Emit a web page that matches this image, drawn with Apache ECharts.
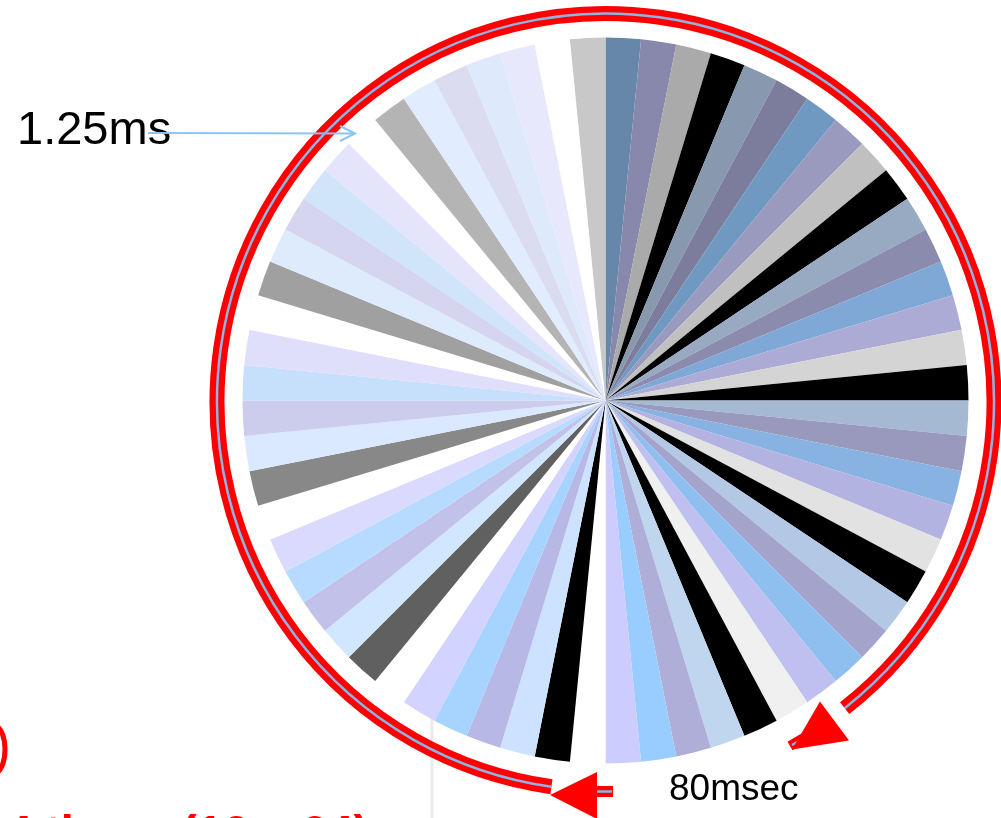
<!DOCTYPE html>
<html>
<head>
<meta charset="utf-8">
<script src="https://cdn.jsdelivr.net/npm/echarts@6/dist/echarts.min.js"></script>
<style>
  html, body { margin: 0; padding: 0; background: #ffffff; }
  #chart { width: 1001px; height: 818px; }
</style>
</head>
<body>
<div id="chart"></div>
<script>
// 64 time slots of 1.25 ms each (80 msec per revolution)
const sliceNames = [
  '1','2','3','4','5','6','7','8','9','10','11','12','13','14','15','16',
  '17','18','19','20','21','22','23','24','25','26','27','28','29','30','31','32',
  '33','34','35','36','37','38','39','40','41','42','43','44','45','46','47','48',
  '49','50','51','52','53','54','55','56','57','58','59','60','61','62','63','64'
];
const sliceValues = [
  1.25,1.25,1.25,1.25,1.25,1.25,1.25,1.25,1.25,1.25,1.25,1.25,1.25,1.25,1.25,1.25,
  1.25,1.25,1.25,1.25,1.25,1.25,1.25,1.25,1.25,1.25,1.25,1.25,1.25,1.25,1.25,1.25,
  1.25,1.25,1.25,1.25,1.25,1.25,1.25,1.25,1.25,1.25,1.25,1.25,1.25,1.25,1.25,1.25,
  1.25,1.25,1.25,1.25,1.25,1.25,1.25,1.25,1.25,1.25,1.25,1.25,1.25,1.25,1.25,1.25
];
const sliceColors = [
  '#6687AA','#8888AC','#AAAAAA','#000000','#8898AE','#7C7C9C','#7099C2','#9A9ABF',
  '#C0C0C0','#000000','#97AAC2','#8B8BAD','#7FA8D6','#ABABD6','#D4D4D4','#000000',
  '#A6B9D3','#9999BE','#87B2E2','#B3B3E2','#E2E2E2','#000000','#B2C8E4','#A3A3CC',
  '#8FBFEE','#C0C0F0','#F0F0F0','#000000','#C0D5EE','#AEAED8','#99CCFF','#CCCCFF',
  '#FFFFFF','#000000','#CCE2FF','#B8B8E6','#A6D3FF','#D3D3FF','#FFFFFF','#606060',
  '#D1E6FF','#C1C1E9','#B7DBFF','#DADAFF','#FFFFFF','#888888','#DAE9FF','#CCCCEC',
  '#C6E0FB','#DFDFFB','#FFFFFF','#A0A0A0','#DDEBFD','#D5D5F0','#D0E4FA','#E4E4FC',
  '#FFFFFF','#B4B4B4','#E1EDFE','#DCDCF0','#DEEAFC','#E8E8FC','#FFFFFF','#C8C8C8'
];
const slotLabel = '1.25ms';
const periodLabel = '80msec';
const repeatLabel = '4 times (16 x 64)';

const chart = echarts.init(document.getElementById('chart'), null, { renderer: 'canvas' });

const RED = '#FF0000';
const BLUE = '#8DB4E2';
const deg = Math.PI / 180;
// arc angle convention: degrees clockwise from 12 o'clock -> canvas radians
const a0 = (188 - 90) * deg;
const a1 = (142 - 90 + 360) * deg;

chart.setOption({
  animation: false,
  backgroundColor: '#ffffff',
  series: [{
    type: 'pie',
    center: [605.5, 400.5],
    radius: [0, 363],
    startAngle: 90,
    clockwise: true,
    silent: true,
    avoidLabelOverlap: false,
    label: { show: false },
    labelLine: { show: false },
    emphasis: { disabled: true },
    itemStyle: { borderWidth: 0 },
    data: sliceValues.map((v, i) => ({
      name: sliceNames[i],
      value: v,
      itemStyle: { color: sliceColors[i] }
    }))
  }],
  graphic: [
    { type: 'line', z: 0, shape: { x1: 432, y1: 700, x2: 432, y2: 818 },
      style: { stroke: '#EBEBEB', lineWidth: 3 } },
    { type: 'arc', z: 10, shape: { cx: 605.5, cy: 402, r: 388.5, startAngle: a0, endAngle: a1, clockwise: true },
      style: { stroke: RED, lineWidth: 15, fill: 'none' } },
    { type: 'arc', z: 11, shape: { cx: 605.5, cy: 402, r: 388.5, startAngle: a0, endAngle: a1, clockwise: true },
      style: { stroke: BLUE, lineWidth: 2.5, fill: 'none' } },
    // right arrow head
    { type: 'line', z: 10, shape: { x1: 812, y1: 733, x2: 790, y2: 746 },
      style: { stroke: RED, lineWidth: 10 } },
    { type: 'line', z: 11, shape: { x1: 808, y1: 736, x2: 792, y2: 745 },
      style: { stroke: BLUE, lineWidth: 2.5 } },
    { type: 'polygon', z: 12, shape: { points: [[820, 701.5], [849, 740.5], [792, 749.5]] },
      style: { fill: RED } },
    // bottom arrow head
    { type: 'line', z: 10, shape: { x1: 588, y1: 791.5, x2: 613, y2: 791.5 },
      style: { stroke: RED, lineWidth: 11 } },
    { type: 'line', z: 11, shape: { x1: 597, y1: 791.5, x2: 612, y2: 791.5 },
      style: { stroke: BLUE, lineWidth: 2.5 } },
    { type: 'polygon', z: 12, shape: { points: [[597, 772], [597, 819], [550, 795]] },
      style: { fill: RED } },
    // red mark cut at left edge
    { type: 'ellipse', z: 10, shape: { cx: -6, cy: 749.5, rx: 11, ry: 24 },
      style: { stroke: RED, lineWidth: 5, fill: 'none' } },
    // 1.25ms pointer
    { type: 'line', z: 10, shape: { x1: 148, y1: 133, x2: 354, y2: 133.5 },
      style: { stroke: '#8EC3F5', lineWidth: 2 } },
    { type: 'polyline', z: 10, shape: { points: [[340, 126], [355, 133.5], [340, 141]] },
      style: { stroke: '#8EC3F5', lineWidth: 2, fill: 'none' } },
    { type: 'text', z: 9, style: { text: slotLabel, x: 17, y: 131,
      font: '47px "Liberation Sans", Arial, sans-serif', fill: '#000000',
      textAlign: 'left', textVerticalAlign: 'middle' } },
    { type: 'text', z: 9, style: { text: periodLabel, x: 669, y: 790,
      font: '37px "Liberation Sans", Arial, sans-serif', fill: '#000000',
      textAlign: 'left', textVerticalAlign: 'middle' } },
    { type: 'text', z: 9, style: { text: repeatLabel, x: 6, y: 835,
      font: 'bold 47px "Liberation Sans", Arial, sans-serif', fill: RED,
      textAlign: 'left', textVerticalAlign: 'middle' } }
  ]
});
</script>
</body>
</html>
